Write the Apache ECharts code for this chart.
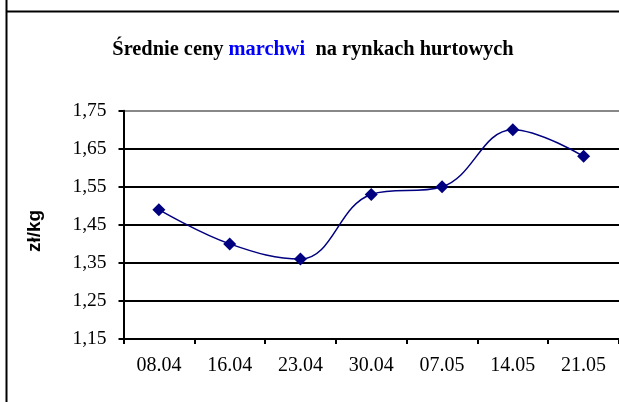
<!DOCTYPE html>
<html><head><meta charset="utf-8">
<script src="https://cdn.jsdelivr.net/npm/echarts@6/dist/echarts.min.js"></script>
<style>html,body{margin:0;padding:0;background:#fff}#c{width:619px;height:402px}</style>
</head><body><div id="c"></div>
<script>
var categories = ['08.04','16.04','23.04','30.04','07.05','14.05','21.05'];
var prices = [1.49, 1.40, 1.36, 1.53, 1.55, 1.70, 1.63];
var yMin = 1.15, yMax = 1.75, yStep = 0.1;
var yAxisTitle = 'zł/kg';

var chart = echarts.init(document.getElementById('c'), null, {renderer:'canvas'});
chart.setOption({
  animation:false,
  backgroundColor:'#fff',
  title:{
    text:'{a|Średnie ceny }{b|marchwi}{a|  na rynkach hurtowych}',
    left:308, top:35, textAlign:'center',
    textStyle:{rich:{
      a:{fontFamily:'Liberation Serif',fontWeight:'bold',fontSize:20.4,color:'#000'},
      b:{fontFamily:'Liberation Serif',fontWeight:'bold',fontSize:20.4,color:'#0000ff'}
    }}
  },
  graphic:[
    {type:'line',shape:{x1:6.5,y1:0,x2:6.5,y2:402},style:{stroke:'#000',lineWidth:2}},
    {type:'line',shape:{x1:6,y1:11.5,x2:619,y2:11.5},style:{stroke:'#000',lineWidth:2}},
    {type:'text',x:35,y:231,rotation:Math.PI/2,
     style:{text:yAxisTitle,align:'center',verticalAlign:'middle',fill:'#000',
            font:'bold 19px "Liberation Sans"'}}
  ],
  grid:{left:123.5,top:110.7,width:498,height:228.3,containLabel:false},
  xAxis:{
    type:'category',data:categories,boundaryGap:true,
    axisLine:{lineStyle:{color:'#000',width:2}},
    axisTick:{show:true,length:5,lineStyle:{color:'#000',width:2}},
    axisLabel:{fontFamily:'Liberation Serif',fontSize:20,color:'#000',margin:17}
  },
  yAxis:{
    type:'value',min:yMin,max:yMax,interval:yStep,
    axisLine:{show:true,lineStyle:{color:'#000',width:2}},
    axisTick:{show:true,length:5,lineStyle:{color:'#000',width:2}},
    axisLabel:{fontFamily:'Liberation Serif',fontSize:19.5,color:'#000',margin:17,
      formatter:function(v){return v.toFixed(2).replace('.',',');}},
    splitLine:{show:true,lineStyle:{color:['#000','#000','#000','#000','#000','#000','#888'],width:2}}
  },
  series:[{
    type:'line',data:prices,smooth:0.4,
    symbol:'diamond',symbolSize:13,
    lineStyle:{color:'#000080',width:1.5},
    itemStyle:{color:'#000080'}
  }]
});
</script></body></html>
